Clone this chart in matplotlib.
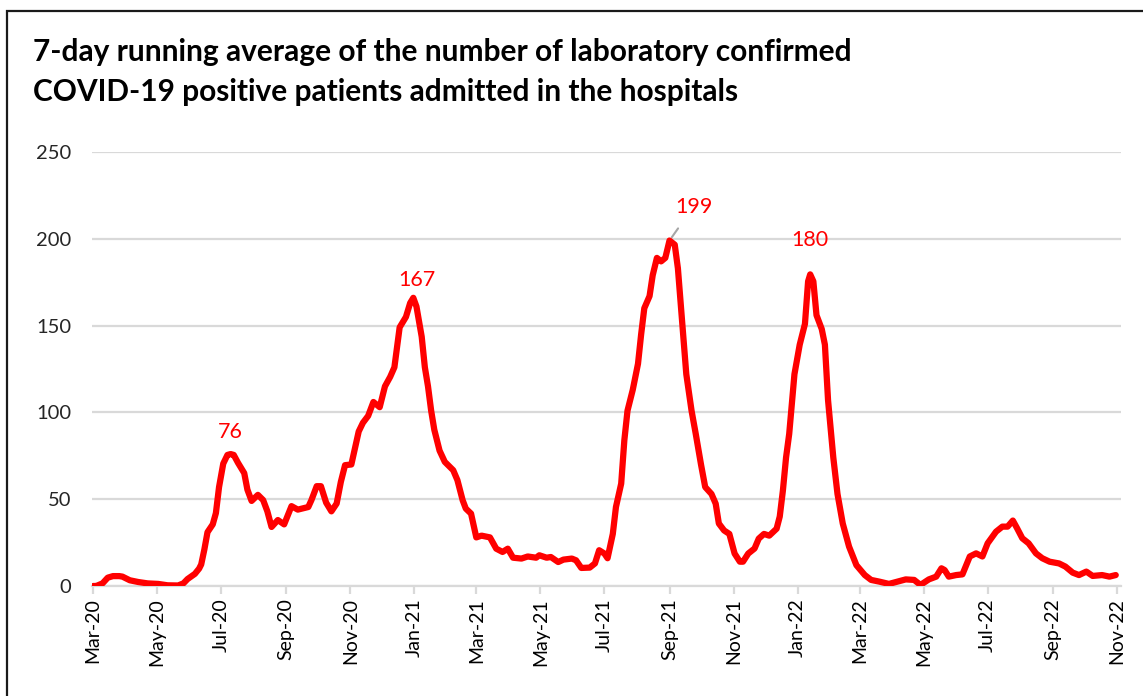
import numpy as np
import matplotlib
matplotlib.use('Agg')
import matplotlib.pyplot as plt
import matplotlib.dates as mdates
from matplotlib.patches import Rectangle

plt.rcParams['font.family'] = ['Lato', 'DejaVu Sans']

# ---------------- data ----------------
start_date = np.datetime64('2020-03-01')
day_offsets = [0, 3, 9, 14, 19, 25, 28, 35, 43, 52, 62, 71, 81, 86, 90, 97, 101, 103,
               106, 109, 114, 117, 120, 124, 128, 131, 134, 138, 144, 147, 151, 157,
               162, 166, 170, 176, 182, 189, 195, 205, 208, 213, 217, 222, 227, 232,
               236, 240, 246, 253, 257, 262, 267, 273, 278, 283, 287, 292, 298, 302,
               305, 308, 313, 316, 319, 322, 325, 330, 335, 343, 347, 352, 355, 360,
               365, 370, 378, 384, 390, 395, 400, 408, 414, 422, 425, 432, 436, 443,
               448, 456, 460, 465, 473, 478, 482, 487, 490, 495, 498, 503, 506, 509,
               514, 519, 522, 525, 530, 533, 537, 541, 545, 549, 554, 557, 560, 565,
               570, 574, 579, 583, 589, 593, 596, 601, 606, 611, 616, 619, 624, 630,
               634, 639, 644, 651, 654, 657, 660, 663, 668, 673, 678, 681, 683, 686,
               689, 694, 697, 700, 705, 709, 714, 720, 727, 735, 741, 749, 758, 766,
               774, 782, 788, 796, 803, 808, 811, 815, 822, 828, 835, 841, 847, 852,
               860, 866, 871, 876, 880, 885, 891, 898, 904, 911, 920, 926, 933, 939,
               946, 952, 961, 968, 974]
admissions = [0, 0, 1.5, 4.8, 5.7, 5.7, 5.4, 3.3, 2.3, 1.5, 1.2, 0.4, 0.3, 1.5, 4, 7, 10,
              12.4, 21, 31, 35.5, 42, 57, 70.5, 75.5, 76, 75.5, 71, 65, 55.5, 49, 52.5,
              49.5, 43, 34, 38, 35.5, 46, 44, 45.5, 49.5, 57.5, 57.5, 48, 43, 47.5,
              60, 69.6, 70, 89, 94, 98, 106, 103, 115, 120.5, 126, 149, 155, 163,
              166, 161, 143.6, 126, 115, 101, 90, 78, 71.5, 66.7, 61, 49.4, 44.6, 41.7,
              28, 29, 28, 21.5, 19.6, 21.5, 16.3, 15.8, 17, 16.3, 17.7, 16.3, 16.7, 13.8,
              15.2, 15.8, 14.8, 10.4, 10.6, 13, 20.6, 18.7, 16, 30, 45.5, 59, 84, 101,
              113, 128, 145, 160, 167, 179, 189, 187, 189, 199, 196.6, 183, 160, 122,
              101, 87.6, 70, 57, 53, 47.4, 36, 32, 30, 18.7, 14, 14, 18.7, 21.6,
              27.3, 30, 29, 33, 40, 55, 74, 87.6, 122, 139, 151, 175.5, 179.5, 175.5,
              156, 148, 139, 107, 74, 53, 36, 22.7, 12, 6.3, 3.5, 2.5, 1.2, 2.5,
              3.8, 3.5, 0.6, 3.8, 5.4, 10.2, 9.2, 5.4, 6.3, 6.7, 17, 18.8, 17, 24.6,
              31.3, 34.2, 34.2, 37.7, 33.3, 27.5, 24.6, 18.8, 16, 14, 13, 11.2, 7.7, 6.3,
              8.3, 5.8, 6.3, 5.4, 6.3]

peak_labels = ['76', '167', '199', '180']
peak_days = [131, 305, 549, 683]
y_ticks = [0, 50, 100, 150, 200, 250]
title_lines = ['7-day running average of the number of laboratory confirmed',
               'COVID-19 positive patients admitted in the hospitals']

# ---------------- figure ----------------
W, H = 1143, 696
fig = plt.figure(figsize=(W / 100, H / 100), dpi=100)
ax = fig.add_axes([92 / W, 1 - 586 / H, (1121 - 92) / W, (586 - 152) / H])

dates = start_date + np.array(day_offsets).astype('timedelta64[D]')
ax.plot(dates, admissions, color='#ff0000', lw=4.5, solid_capstyle='round',
        solid_joinstyle='round', zorder=3)

# peak labels
offsets = {'76': (0, 22), '167': (4, 18), '199': (24, 34), '180': (0, 34)}
for lab, d in zip(peak_labels, peak_days):
    i = day_offsets.index(d)
    xy = (dates[i], admissions[i])
    dx, dy = offsets[lab]
    if lab == '199':
        ax.annotate(lab, xy=xy, xytext=(dx, dy), textcoords='offset pixels',
                    ha='center', va='center', color='#ff0000', fontsize=15.5,
                    arrowprops=dict(arrowstyle='-', color='#a6a6a6', lw=1.5,
                                    shrinkA=8, shrinkB=3), zorder=4)
    else:
        ax.annotate(lab, xy=xy, xytext=(dx, dy), textcoords='offset pixels',
                    ha='center', va='center', color='#ff0000', fontsize=15.5, zorder=4)

ax.set_ylim(0, 250)
ax.set_yticks(y_ticks)
ax.set_xlim(start_date - np.timedelta64(1, 'D'), start_date + np.timedelta64(979, 'D'))
ax.xaxis.set_major_locator(mdates.MonthLocator(bymonth=[1, 3, 5, 7, 9, 11]))
ax.xaxis.set_major_formatter(mdates.DateFormatter('%b-%y'))

ax.grid(axis='y', color='#d9d9d9', lw=1.6, zorder=0)
ax.set_axisbelow(True)
for s in ['top', 'right', 'left']:
    ax.spines[s].set_visible(False)
ax.spines['bottom'].set_color('#d9d9d9')
ax.spines['bottom'].set_linewidth(1.6)
ax.spines['bottom'].set_zorder(1)

ax.tick_params(axis='y', length=0, pad=15, labelsize=14.5, labelcolor='#262626')
ax.tick_params(axis='x', length=6, width=1.6, color='#d9d9d9', pad=3,
               labelsize=14, labelcolor='#000000', labelrotation=90)

# titles
fig.text(33 / W, 1 - 52 / H, title_lines[0], ha='left', va='center',
         fontsize=21.5, fontweight='bold', color='#000000')
fig.text(33 / W, 1 - 92 / H, title_lines[1], ha='left', va='center',
         fontsize=21.5, fontweight='bold', color='#000000')

# frame (left and top visible; extends past right/bottom edges)
top = 1 - 11 / H
fig.patches.append(Rectangle((7 / W, -0.2), 1.3, top + 0.2, transform=fig.transFigure,
                             fill=False, edgecolor='#1a1a1a', lw=1.6, figure=fig))

fig.savefig('out.png', dpi=100)
